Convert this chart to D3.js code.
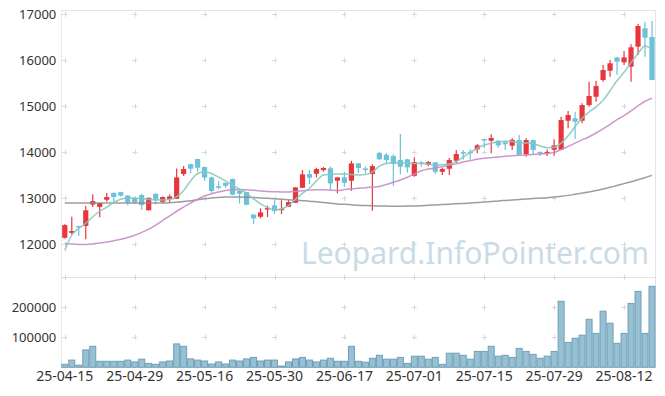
<!DOCTYPE html>
<html><head><meta charset="utf-8">
<script src="https://cdn.jsdelivr.net/npm/d3@7"></script>
<style>body{margin:0;background:#fff}svg{display:block}</style>
</head><body><svg id="c" width="665" height="396"></svg>
<script>
const dates = [
"2025-04-15","2025-04-16","2025-04-17","2025-04-18","2025-04-21","2025-04-22","2025-04-23","2025-04-24","2025-04-25","2025-04-28","2025-04-29","2025-04-30",
"2025-05-02","2025-05-07","2025-05-08","2025-05-09","2025-05-12","2025-05-13","2025-05-14","2025-05-15","2025-05-16","2025-05-19","2025-05-20","2025-05-21","2025-05-22","2025-05-23","2025-05-26","2025-05-27","2025-05-28","2025-05-29","2025-05-30",
"2025-06-02","2025-06-04","2025-06-05","2025-06-09","2025-06-10","2025-06-11","2025-06-12","2025-06-13","2025-06-16","2025-06-17","2025-06-18","2025-06-19","2025-06-20","2025-06-23","2025-06-24","2025-06-25","2025-06-26","2025-06-27","2025-06-30",
"2025-07-01","2025-07-02","2025-07-03","2025-07-04","2025-07-07","2025-07-08","2025-07-09","2025-07-10","2025-07-11","2025-07-14","2025-07-15","2025-07-16","2025-07-17","2025-07-18","2025-07-21","2025-07-22","2025-07-23","2025-07-24","2025-07-25","2025-07-28","2025-07-29","2025-07-30","2025-07-31",
"2025-08-01","2025-08-04","2025-08-05","2025-08-06","2025-08-07","2025-08-08","2025-08-11","2025-08-12","2025-08-13","2025-08-14","2025-08-18","2025-08-19"];

const open  = [12143,12250,12400,12402,12865,12815,12970,13120,13135,13060,13005,13072,12740,13100,12926,12985,12990,13530,13745,13855,
13680,13455,13265,13340,13420,13165,13137,12650,12600,12760,12848,12745,12817,12904,13230,13528,13535,13615,13652,13383,
13456,13383,13761,13650,13528,13990,13948,13920,13833,13848,13491,13782,13730,13782,13578,13644,13818,14006,14010,14065,
14290,14252,14252,14217,14144,14267,13957,14267,14010,13990,14057,14057,14687,14739,14687,15028,15209,15572,15774,16063,
15957,15861,16296,16696,16507];
const high  = [12440,12600,12400,12833,13090,12900,13115,13130,13145,13075,13030,13100,13013,13110,13040,13085,13650,13702,13750,13860,
13690,13470,13376,13345,13430,13200,13140,12655,12785,12840,12960,12960,12963,13240,13615,13615,13665,13680,13690,13460,
13578,13817,13770,13690,13740,14000,13985,13957,14400,13860,13891,13811,13810,13790,13672,13876,14050,14050,14070,14180,
14295,14391,14270,14252,14304,14376,14304,14280,14020,14060,14283,14774,14898,14883,15065,15535,15557,15898,16006,16070,
16202,16348,16789,16839,16854];
const low   = [12130,12210,12180,12109,12815,12590,12925,12880,13040,12850,12880,12746,12740,12870,12900,12900,12985,13485,13550,13578,
13385,13120,13196,13230,13070,12891,12850,12440,12565,12595,12660,12660,12810,12900,13225,13311,13456,13580,13165,13109,
13252,13165,13550,13545,12730,13840,13761,13274,13522,13556,13470,13687,13700,13528,13506,13506,13761,13840,13840,13978,
14093,13978,14100,14050,14050,13935,13904,13950,13920,13920,13926,14050,14522,14289,14630,14990,15100,15535,15643,15680,
15898,15535,16115,16078,15572];
const close = [12419,12290,12380,12741,12940,12900,13030,13030,13060,12910,12910,12854,13013,12963,13028,13043,13456,13637,13645,13665,
13450,13160,13230,13275,13080,13100,12861,12565,12695,12790,12724,12775,12919,13239,13522,13448,13637,13660,13326,13456,
13339,13761,13659,13630,13702,13848,13833,13746,13687,13674,13789,13765,13789,13578,13637,13833,13963,13985,13995,14152,
14280,14311,14152,14174,14274,13948,14267,14050,13995,14010,14152,14702,14811,14666,15028,15224,15441,15789,15935,15970,
16063,16283,16746,16491,15572];
const volume = [10000,24000,7000,58000,70000,20000,20000,20000,20000,24000,18000,27000,13000,10000,18000,21000,78000,70000,28000,24000,
21000,11000,18000,11000,24000,21000,28000,33000,21000,24000,24000,4000,18000,28000,33000,24000,18000,24000,30000,20000,
20000,70000,20000,17000,30000,40000,27000,27000,33000,13000,37000,37000,27000,33000,10000,47000,47000,40000,27000,53000,
53000,70000,37000,40000,33000,63000,53000,43000,30000,37000,53000,220000,83000,97000,107000,160000,113000,187000,147000,80000,
113000,213000,253000,113000,270000];
const ma5 = [11870,12200,12350,12460,12600,12720,12810,12910,12980,13010,13005,13000,12975,12965,12965,12975,13030,13170,13380,13540,
13580,13540,13460,13380,13290,13200,13110,12990,12880,12800,12750,12770,12840,12980,13110,13220,13380,13510,13520,13530,
13530,13520,13510,13520,13570,13700,13760,13775,13770,13765,13760,13760,13745,13725,13730,13746,13800,13900,14000,14090,
14160,14200,14225,14240,14235,14217,14205,14190,14140,14100,14110,14200,14360,14560,14740,14880,14990,15130,15340,15560,
15740,15950,16150,16310,16240];
const ma20 = [12020,12010,12000,12000,12010,12030,12050,12080,12110,12150,12200,12260,12330,12420,12520,12620,12720,12810,12900,12980,
13050,13100,13140,13170,13190,13195,13190,13175,13160,13150,13145,13140,13140,13150,13165,13180,13185,13190,13180,13170,
13190,13210,13220,13230,13245,13260,13300,13350,13400,13460,13530,13600,13640,13660,13690,13720,13750,13790,13820,13850,
13870,13885,13900,13915,13925,13935,13945,13955,13965,13975,14000,14060,14130,14200,14270,14340,14420,14510,14610,14710,
14800,14900,15010,15110,15175];
const ma60 = [12900,12900,12900,12900,12900,12900,12900,12900,12900,12900,12900,12900,12900,12900,12900,12905,12915,12930,12950,12970,
12990,13010,13020,13030,13030,13030,13025,13020,13010,13000,12990,12980,12970,12960,12950,12940,12925,12910,12895,12880,
12870,12860,12850,12843,12838,12835,12832,12830,12830,12832,12836,12842,12850,12858,12866,12874,12882,12890,12900,12910,
12920,12932,12945,12955,12965,12975,12985,12995,13005,13015,13030,13045,13065,13090,13115,13140,13170,13205,13240,13280,
13320,13360,13405,13450,13500];
const priceTicks = [12000,13000,14000,15000,16000,17000];
const volumeTicks = [100000,200000];
const volumeGrid = [100000,200000,300000];
const dateTicks = ["25-04-15","25-04-29","25-05-16","25-05-30","25-06-17","25-07-01","25-07-15","25-07-29","25-08-12"];

const L = 61.3, R = 655.5;
const svg = d3.select('#c');
const x = d3.scaleBand().domain(dates).range([L, R]).padding(0);
const yP = d3.scaleLinear().domain([11400, 17100]).range([272, 9.7]);
const yV = d3.scaleLinear().domain([0, 300000]).range([367.3, 277.3]);
const cx = d => x(d) + x.bandwidth() / 2;
const fmt = d => d.slice(2);
const tickDates = dates.filter(d => dateTicks.includes(fmt(d)));

const RED = '#e8363c', BLUE = '#6cc2d9';

// borders
const g0 = svg.append('g').attr('stroke', '#e4e4e4').attr('stroke-width', 1).attr('fill', 'none');
g0.append('line').attr('x1', L).attr('x2', R).attr('y1', 10.5).attr('y2', 10.5);
g0.append('line').attr('x1', L).attr('x2', R).attr('y1', 277.5).attr('y2', 277.5);
g0.append('line').attr('x1', L).attr('x2', L).attr('y1', 10).attr('y2', 367.5);
g0.append('line').attr('x1', R).attr('x2', R).attr('y1', 10).attr('y2', 367.5);

// grid crosses
const gc = svg.append('g').attr('stroke', '#d8d8d8').attr('stroke-width', 1);
const crosses = [];
tickDates.forEach(d => {
  priceTicks.forEach(p => crosses.push([cx(d), yP(p)]));
  volumeGrid.forEach(v => crosses.push([cx(d), yV(v)]));
});
gc.selectAll('path').data(crosses).join('path')
  .attr('d', c => `M${c[0]-2.5},${Math.round(c[1])+0.5}H${c[0]+2.5}M${Math.round(c[0])+0.5},${c[1]-2.5}V${c[1]+2.5}`);

// watermark
svg.append('text').attr('x', 475).attr('y', 264).attr('text-anchor', 'middle')
  .attr('font-family', 'Noto Sans, sans-serif').attr('font-size', 30)
  .attr('fill', '#c9dbe6').text('Leopard.InfoPointer.com');

// volume bars
svg.append('g').selectAll('rect').data(dates).join('rect')
  .attr('x', d => x(d) + 0.5).attr('width', x.bandwidth() - 1)
  .attr('y', (d, i) => yV(volume[i])).attr('height', (d, i) => yV(0) - yV(volume[i]))
  .attr('fill', '#98c0d3').attr('stroke', '#6f9fb8').attr('stroke-width', 1);

// candles
const gk = svg.append('g');
gk.selectAll('line').data(dates).join('line')
  .attr('x1', d => cx(d)).attr('x2', d => cx(d))
  .attr('y1', (d, i) => yP(high[i])).attr('y2', (d, i) => yP(low[i]))
  .attr('stroke', (d, i) => close[i] >= open[i] ? RED : BLUE).attr('stroke-width', 1.2);
gk.selectAll('rect').data(dates).join('rect')
  .attr('x', d => cx(d) - 2.6).attr('width', 5.2)
  .attr('y', (d, i) => yP(Math.max(open[i], close[i])))
  .attr('height', (d, i) => Math.max(1.5, Math.abs(yP(open[i]) - yP(close[i]))))
  .attr('fill', (d, i) => close[i] >= open[i] ? RED : BLUE);

// moving averages
const line = arr => d3.line().x((d, i) => cx(dates[i])).y(d => yP(d)).curve(d3.curveMonotoneX)(arr);
svg.append('path').attr('d', line(ma60)).attr('fill', 'none').attr('stroke', '#8c8c8c').attr('stroke-width', 1.5).attr('opacity', 0.85);
svg.append('path').attr('d', line(ma20)).attr('fill', 'none').attr('stroke', '#c88bc6').attr('stroke-width', 1.5).attr('opacity', 0.9);
svg.append('path').attr('d', line(ma5)).attr('fill', 'none').attr('stroke', '#86c8bf').attr('stroke-width', 1.5).attr('opacity', 0.9);

// axes
const font = 'Noto Sans, sans-serif';
const ay = svg.append('g').attr('transform', `translate(${L - 5},0)`)
  .call(d3.axisLeft(yP).tickValues(priceTicks).tickSize(0).tickPadding(0).tickFormat(d3.format('d')));
const av = svg.append('g').attr('transform', `translate(${L - 5},0)`)
  .call(d3.axisLeft(yV).tickValues(volumeTicks).tickSize(0).tickPadding(0).tickFormat(d3.format('d')));
const ax = svg.append('g').attr('transform', `translate(0,${367.3})`)
  .call(d3.axisBottom(x).tickValues(tickDates).tickSize(0).tickPadding(4).tickFormat(fmt));
[ay, av, ax].forEach(a => {
  a.select('.domain').remove();
  a.selectAll('text').attr('font-family', font).attr('font-size', 13).attr('fill', '#333');
});
ax.selectAll('text').attr('font-size', 14);
</script></body></html>
